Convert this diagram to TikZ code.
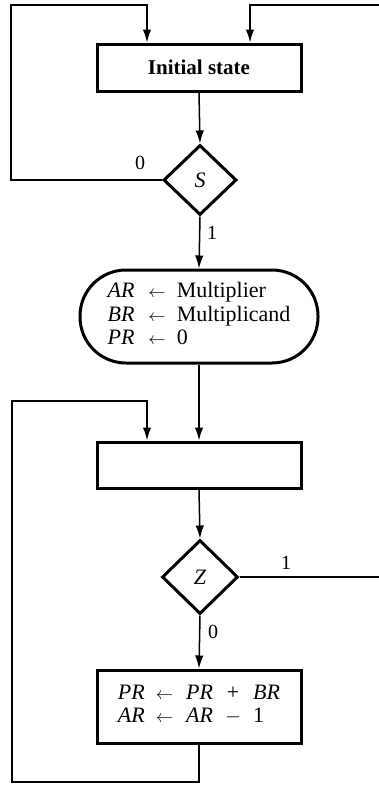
\documentclass[tikz,border=0pt]{standalone}
\usepackage{fontspec}
\setmainfont{Liberation Serif}
\usetikzlibrary{arrows.meta,shapes.geometric}
\newcommand{\myarrow}{{\fontsize{16}{16}\selectfont$\leftarrow$}}
\begin{document}
\begin{tikzpicture}[x=1pt,y=-1pt,
  conn/.style={line width=1.5pt},
  arr/.style={conn,-{Latex[length=13pt,width=8.5pt]}},
  box/.style={draw,line width=3pt,minimum width=204pt,inner sep=0pt,align=center,font=\fontsize{22}{23.5}\selectfont},
  dia/.style={draw,diamond,line width=3pt,inner sep=0pt,font=\fontsize{22}{23.5}\selectfont\itshape},
  lab/.style={font=\fontsize{20}{21}\selectfont,inner sep=0pt}]
\useasboundingbox (0,0) rectangle (379,785);
% nodes
\node[box,minimum height=47pt,font=\fontsize{21}{23.5}\selectfont\bfseries] (init) at (199,67.5) {Initial state};
\node[dia,minimum width=73pt,minimum height=70pt] (S) at (200,180) {S};
\node[box,rounded corners=46pt,minimum width=238pt,minimum height=93pt] (load) at (199,316.5)
  {\begin{tabular}{@{}l@{\hspace{14pt}}c@{\hspace{11pt}}l@{}}
   \textit{AR} & \myarrow & Multiplier\\
   \textit{BR} & \myarrow & Multiplicand\\
   \textit{PR} & \myarrow & 0
   \end{tabular}};
\node[box,minimum height=46pt] (wait) at (199,465) {};
\node[dia,minimum width=76pt,minimum height=74pt] (Z) at (200,577) {Z};
\node[box,minimum height=73pt] (add) at (199,706.5)
  {\begin{tabular}{@{}l@{\hspace{11pt}}c@{\hspace{13pt}}l@{\hspace{12pt}}c@{\hspace{12pt}}l@{}}
   \textit{PR} & \myarrow & \textit{PR} & + & \textit{BR}\\
   \textit{AR} & \myarrow & \textit{AR} & $-$ & 1
   \end{tabular}};
% free ends
\coordinate (lt) at (11,5);
\coordinate (rt) at (379,5);
\coordinate (rz) at (379,577);
\coordinate (lb) at (12,782);
\coordinate (lt2) at (12,401);
% connectors
\draw[arr] (init.south) -- (S.north);
\draw[arr] (S.west) -| (lt) -| ([xshift=-52pt]init.north);
\draw[arr] (rt) -| ([xshift=51pt]init.north);
\draw[arr] (S.south) -- (load.north);
\draw[arr] (load.south) -- (wait.north);
\draw[arr] (wait.south) -- (Z.north);
\draw[conn] (Z.east) -- (rz);
\draw[arr] (Z.south) -- (add.north);
\draw[arr] (add.south) |- (lb) -- (lt2) -| ([xshift=-52pt]wait.north);
% labels
\node[lab] (l0a) at (140,163) {0};
\node[lab] (l1a) at (212,233) {1};
\node[lab] (l1b) at (286,563) {1};
\node[lab] (l0b) at (213,632) {0};
\end{tikzpicture}
\end{document}
